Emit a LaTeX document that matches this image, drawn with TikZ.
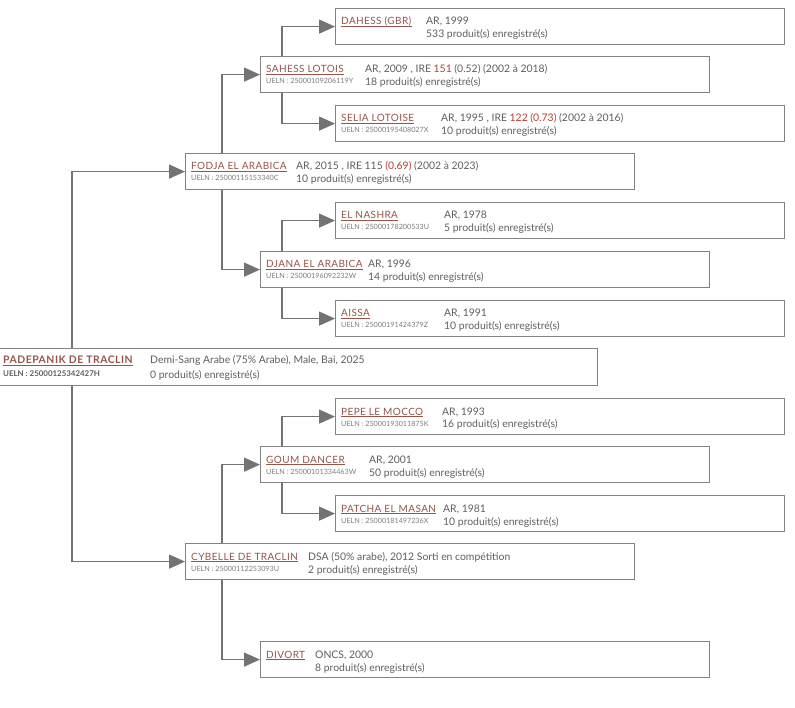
\documentclass[tikz,border=0pt]{standalone}
\usepackage{fontspec}
\setmainfont{Lato}
\newfontfamily\namefont[LetterSpace=4]{Lato}
\newfontfamily\rootfont[LetterSpace=5]{Lato}
\usetikzlibrary{arrows.meta}
\definecolor{namec}{RGB}{150,85,75}
\definecolor{redc}{RGB}{185,60,50}
\definecolor{txtc}{RGB}{95,95,95}
\definecolor{uelnc}{RGB}{125,125,125}
\definecolor{boxc}{RGB}{130,130,130}
\definecolor{linec}{RGB}{115,115,115}
\newcommand\rd[1]{\textcolor{redc}{#1}}
\tikzset{
  hbox/.style={draw=boxc, line width=1.2pt, minimum width=449pt, minimum height=36pt, anchor=north west, inner sep=0pt, fill=white},
  nm/.style={anchor=base west, inner sep=0pt, text=namec, font=\namefont\fontsize{10}{11}\selectfont},
  rootnm/.style={anchor=base west, inner sep=0pt, text=namec, font=\rootfont\fontsize{10.4}{11}\selectfont\bfseries},
  ue/.style={anchor=base west, inner sep=0pt, text=uelnc, font=\fontsize{7.2}{8}\selectfont},
  rootue/.style={anchor=base west, inner sep=0pt, text=txtc, font=\fontsize{7.9}{8}\selectfont\bfseries},
  inf/.style={anchor=base west, inner sep=0pt, text=txtc, font=\fontsize{10.4}{11}\selectfont},
  uline/.style={draw=namec, line width=0.7pt},
  conn/.style={draw=linec, line width=1.3pt, -{Triangle[length=16pt,width=14pt]}}
}
% #1 id, #2 x, #3 y, #4 name, #5 ueln, #6 info dx, #7 line 1, #8 line 2
\newcommand\horse[8]{%
  \node[hbox] (#1) at (#2,#3) {};
  \node[nm] (#1-n) at ([shift={(6pt,-17pt)}]#1.north west) {#4};
  \draw[uline] ([yshift=-1.8pt]#1-n.base west) -- ([yshift=-1.8pt]#1-n.base east);
  \node[ue] (#1-u) at ([shift={(6pt,-28pt)}]#1.north west) {#5};
  \node[inf] (#1-a) at ([shift={(#6pt,-17pt)}]#1.north west) {#7};
  \node[inf] (#1-b) at ([shift={(#6pt,-30pt)}]#1.north west) {#8};
}
\begin{document}
\begin{tikzpicture}[x=1pt,y=-1pt]
\useasboundingbox[fill=white] (0,0) rectangle (795,708);
\horse{dahess}{335}{8}{DAHESS (GBR)}{}{91}{AR, 1999}{533 produit(s) enregistré(s)}
\horse{sahess}{260}{56}{SAHESS LOTOIS}{UELN : 25000109206119Y}{105}{AR, 2009 , IRE \rd{151} (0.52) (2002 à 2018)}{18 produit(s) enregistré(s)}
\horse{selia}{335}{105}{SELIA LOTOISE}{UELN : 25000195408027X}{106}{AR, 1995 , IRE \rd{122 (0.73)} (2002 à 2016)}{10 produit(s) enregistré(s)}
\horse{fodja}{185}{153}{FODJA EL ARABICA}{UELN : 25000115153340C}{111}{AR, 2015 , IRE 115 \rd{(0.69)} (2002 à 2023)}{10 produit(s) enregistré(s)}
\horse{elnashra}{335}{202}{EL NASHRA}{UELN : 25000178200533U}{109}{AR, 1978}{5 produit(s) enregistré(s)}
\horse{djana}{260}{251}{DJANA EL ARABICA}{UELN : 25000196092232W}{108}{AR, 1996}{14 produit(s) enregistré(s)}
\horse{aissa}{335}{300}{AISSA}{UELN : 25000191424379Z}{109}{AR, 1991}{10 produit(s) enregistré(s)}
\horse{pepe}{335}{398}{PEPE LE MOCCO}{UELN : 25000193011875K}{107}{AR, 1993}{16 produit(s) enregistré(s)}
\horse{goum}{260}{446}{GOUM DANCER}{UELN : 25000101334463W}{109}{AR, 2001}{50 produit(s) enregistré(s)}
\horse{patcha}{335}{495}{PATCHA EL MASAN}{UELN : 25000181497236X}{108}{AR, 1981}{10 produit(s) enregistré(s)}
\horse{cybelle}{185}{543}{CYBELLE DE TRACLIN}{UELN : 25000112253093U}{123}{DSA (50\% arabe), 2012 Sorti en compétition}{2 produit(s) enregistré(s)}
\horse{divort}{260}{641}{DIVORT}{}{55}{ONCS, 2000}{8 produit(s) enregistré(s)}
% root
\node[hbox, minimum width=599pt, minimum height=37pt] (root) at (-2,348) {};
\node[rootnm] (root-n) at ([shift={(5pt,-16pt)}]root.north west) {PADEPANIK DE TRACLIN};
\draw[uline, line width=0.9pt] ([yshift=-1.9pt]root-n.base west) -- ([yshift=-1.9pt]root-n.base east);
\node[rootue] (root-u) at ([shift={(5pt,-29pt)}]root.north west) {UELN : 25000125342427H};
\node[inf] (root-a) at ([shift={(152pt,-16pt)}]root.north west) {Demi-Sang Arabe (75\% Arabe), Male, Bai, 2025};
\node[inf] (root-b) at ([shift={(152pt,-31pt)}]root.north west) {0 produit(s) enregistré(s)};
% connectors
\draw[conn] ([xshift=22pt]sahess.north west) |- (dahess.west);
\draw[conn] ([xshift=22pt]sahess.south west) |- (selia.west);
\draw[conn] ([xshift=37pt]fodja.north west) |- (sahess.west);
\draw[conn] ([xshift=37pt]fodja.south west) |- (djana.west);
\draw[conn] ([xshift=22pt]djana.north west) |- (elnashra.west);
\draw[conn] ([xshift=22pt]djana.south west) |- (aissa.west);
\draw[conn] ([xshift=74pt]root.north west) |- (fodja.west);
\draw[conn] ([xshift=74pt]root.south west) |- (cybelle.west);
\draw[conn] ([xshift=22pt]goum.north west) |- (pepe.west);
\draw[conn] ([xshift=22pt]goum.south west) |- (patcha.west);
\draw[conn] ([xshift=37pt]cybelle.north west) |- (goum.west);
\draw[conn] ([xshift=37pt]cybelle.south west) |- (divort.west);
\end{tikzpicture}
\end{document}
